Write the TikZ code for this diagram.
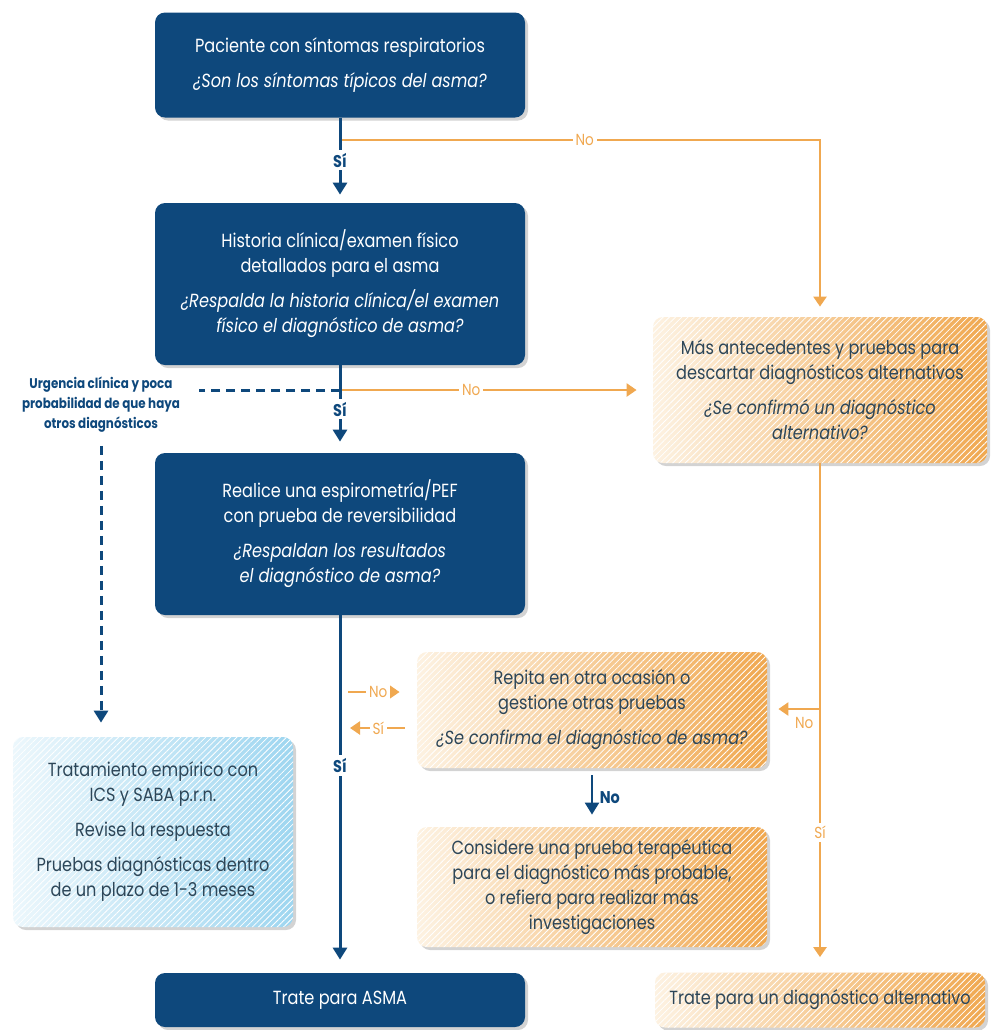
\documentclass[tikz,border=0pt]{standalone}
\usepackage{fontspec}
\setmainfont{Poppins}[FakeStretch=0.85]
\usepackage{tikz}
\usetikzlibrary{positioning}
\usetikzlibrary{arrows.meta}
\usetikzlibrary{shadows,patterns.meta}
\definecolor{asmanavy}{RGB}{14,72,124}
\definecolor{asmaorange}{RGB}{240,168,80}
\definecolor{asmacream}{RGB}{253,242,226}
\definecolor{asmapale}{RGB}{236,247,252}
\definecolor{asmablue}{RGB}{158,214,240}
\definecolor{asmatext}{RGB}{45,70,88}
\tikzstyle{navybox}=[rounded corners=5pt, fill=asmanavy, text=white, align=center,
                  font=\fontsize{9.5}{12.5}\selectfont, minimum width=185pt, inner sep=2pt,
                  drop shadow={opacity=0.35, shadow xshift=1.5pt, shadow yshift=-1.5pt}]
\tikzstyle{hatch}=[postaction={pattern={Lines[angle=45,distance=2.2pt,line width=0.4pt]},
                  pattern color=white, fill opacity=0.25}]
\tikzstyle{tanbox}=[rounded corners=5pt, left color=asmacream, right color=asmaorange,
                  text=asmatext, align=center, font=\fontsize{9.5}{12.5}\selectfont, inner sep=2pt,
                  drop shadow={opacity=0.35, shadow xshift=1.5pt, shadow yshift=-1.5pt}, hatch]
\tikzstyle{bluebox}=[tanbox, left color=asmapale, right color=asmablue]
\tikzstyle{navyline}=[asmanavy, line width=1.5pt, -{Triangle[length=6pt,width=7pt]}]
\tikzstyle{orangeline}=[asmaorange, line width=1.2pt, -{Triangle[length=5pt,width=6.5pt]}]
\tikzstyle{navydash}=[asmanavy, line width=1.5pt, dash pattern=on 4.5pt off 3pt]
\tikzstyle{navylabel}=[fill=white, text=asmanavy, font=\bfseries\fontsize{8.5}{9}\selectfont, inner sep=1.5pt]
\tikzstyle{orangelabel}=[fill=white, text=asmaorange, font=\fontsize{8}{9}\selectfont, inner sep=1.5pt]

\begin{document}
\begin{tikzpicture}[x=0.5pt, y=-0.5pt]
      \useasboundingbox (0,0) rectangle (992,1030);
      % Main column of questions
      \node[navybox, minimum height=52.5pt] (sintomas) at (340,65)
        {Paciente con síntomas respiratorios\\[5pt] \textit{¿Son los síntomas típicos del asma?}};
      \node[navybox, minimum height=81pt] (historia) at (340,284)
        {Historia clínica/examen físico\\ detallados para el asma\\[5pt]
         \textit{¿Respalda la historia clínica/el examen}\\ \textit{físico el diagnóstico de asma?}};
      \node[navybox, minimum height=81pt] (espiro) at (340,534)
        {Realice una espirometría/PEF\\ con prueba de reversibilidad\\[5pt]
         \textit{¿Respaldan los resultados}\\ \textit{el diagnóstico de asma?}};
      \node[navybox, minimum height=27pt] (asma) at (340,1000) {Trate para ASMA};
      %
      % Alternative diagnoses
      \node[tanbox, minimum width=167pt, minimum height=73pt] (antecedentes) at (820,390)
        {Más antecedentes y pruebas para\\ descartar diagnósticos alternativos\\[5pt]
         \textit{¿Se confirmó un diagnóstico}\\ \textit{alternativo?}};
      \node[tanbox, minimum width=175pt, minimum height=58pt] (repita) at (592,710)
        {Repita en otra ocasión o\\ gestione otras pruebas\\[5pt]
         \textit{¿Se confirma el diagnóstico de asma?}};
      \node[tanbox, minimum width=175pt, minimum height=60pt] (considere) at (592,887)
        {Considere una prueba terapéutica\\ para el diagnóstico más probable,\\
         o refiera para realizar más\\ investigaciones};
      \node[tanbox, minimum width=165pt, minimum height=27.5pt] (alternativo) at (820,1000)
        {Trate para un diagnóstico alternativo};
      %
      % Urgent branch
      \node[align=center, text=asmanavy, font=\bfseries\fontsize{7}{10}\selectfont] (urgencia) at (101,405)
        {Urgencia clínica y poca\\ probabilidad de que haya\\ otros diagnósticos};
      \node[bluebox, minimum width=140pt, minimum height=95pt] (empirico) at (153,832)
        {Tratamiento empírico con\\ ICS y SABA p.r.n.\\[5pt] Revise la respuesta\\[5pt]
         Pruebas diagnósticas dentro\\ de un plazo de 1-3 meses};
      %
      % Connectors
      \coordinate (j1) at (340,140);
      \coordinate (j2) at (340,390);
      \coordinate (j3) at (820,709);
      \coordinate (k1) at (340,692);
      \coordinate (k2) at (340,728);
      \draw[orangeline, shorten >=5pt] (j1) -- node[orangelabel, pos=0.51]{No} (j1 -| antecedentes) -- (antecedentes);
      \draw[orangeline, shorten >=8pt] (j2) -- node[orangelabel, pos=0.42]{No} (antecedentes);
      \draw[navydash, shorten >=6pt] (j2) -- (j2 -| urgencia.east);
      \draw[navydash, -{Triangle[length=6pt,width=7pt]}, shorten <=3pt, shorten >=7pt] (urgencia) -- (urgencia |- empirico.north);
      \draw[navyline, shorten >=4pt] (sintomas) -- node[navylabel]{Sí} (historia);
      \draw[navyline, shorten >=5.5pt] (historia) -- node[navylabel]{Sí} (espiro);
      \draw[navyline, shorten >=6.5pt] (espiro) -- node[navylabel, pos=0.42]{Sí} (asma);
      \draw[orangeline, shorten >=7.5pt] (antecedentes) -- node[orangelabel, pos=0.725]{Sí} (alternativo);
      \draw[orangeline, shorten >=5.5pt] (j3) -- node[text=asmaorange, font=\fontsize{8}{9}\selectfont, below, pos=0.3]{No} (j3 -| repita.east);
      \draw[orangeline, shorten <=4pt, shorten >=8.5pt] (k1) -- node[orangelabel]{No} (k1 -| repita.west);
      \draw[orangeline, shorten <=6pt, shorten >=5pt] (k2 -| repita.west) -- node[orangelabel]{Sí} (k2);
      \draw[navyline, line width=1.2pt, shorten <=3.5pt, shorten >=6pt] (repita) -- node[right, text=asmanavy, font=\bfseries\fontsize{8.5}{9}\selectfont]{No} (considere);
\end{tikzpicture}
\end{document}
